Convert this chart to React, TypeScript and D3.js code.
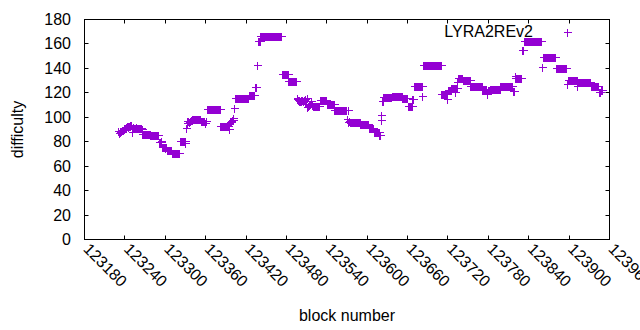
import React from "react";
import * as d3 from "d3";

// one difficulty value per block, starting at firstBlock (consecutive blocks)
const firstBlock = 123230;
const difficulty: number[] = [
  /* 123230 */ 88.9, 87.5, 88, 89, 88.5, 89.5, 90, 89.5, 90.5, 91,
  /* 123240 */ 91, 92, 91.5, 92.5, 92, 93, 92.5, 93, 93.5, 94,
  /* 123250 */ 87.8, 91, 92, 91, 91.5, 91, 91.5, 92, 91, 91.5,
  /* 123260 */ 91, 91.5, 91, 91.5, 91, 90.5, 86.5, 86.5, 86.5, 86.5,
  /* 123270 */ 86.5, 86.5, 86.5, 86.5, 86.5, 86.5, 86.5, 86.5, 85.5, 85.5,
  /* 123280 */ 85.5, 85.5, 85.5, 85.5, 85.5, 85.5, 85.5, 85.5, 85.5, 85.5,
  /* 123290 */ 79.6, 80, 80, 80.5, 80, 76, 75.5, 75.5, 75.5, 75.5,
  /* 123300 */ 75, 75.5, 73.5, 73.5, 73.5, 73.5, 73.5, 73.5, 73, 73.5,
  /* 123310 */ 71, 71, 71, 71, 71, 71, 71, 71, 71, 71,
  /* 123320 */ 71, 71, 81, 81, 81, 80.5, 81, 80.5, 81, 80.5,
  /* 123330 */ 79, 91.4, 95, 96.8, 96.8, 96.5, 96.8, 97, 97.5, 98,
  /* 123340 */ 98.7, 98.5, 98.7, 98.7, 98.5, 98.7, 98.7, 98.5, 98.7, 98.7,
  /* 123350 */ 98.7, 98.7, 98.7, 96.8, 96.8, 96.8, 96.8, 96.8, 96.8, 95.7,
  /* 123360 */ 96.8, 97, 107, 107, 107, 107, 107, 107, 107, 107,
  /* 123370 */ 107, 107, 107, 107, 107, 107, 107, 107, 107, 107,
  /* 123380 */ 107, 107, 92.7, 92.7, 92.7, 92.7, 92.7, 92.7, 92.7, 92.7,
  /* 123390 */ 92.7, 92.7, 92.7, 92.7, 90.6, 95, 96, 96.5, 97, 97.5,
  /* 123400 */ 98, 99.3, 107.7, 116, 116, 116, 116, 116, 116, 116,
  /* 123410 */ 116, 116, 116, 116, 116, 116, 116, 116, 116, 116,
  /* 123420 */ 116, 116, 116, 116, 118.4, 118.4, 118.4, 118.4, 118.4, 118.4,
  /* 123430 */ 118.4, 118.4, 118.4, 124.9, 124.9, 124.9, 143, 143, 162.8, 162.8,
  /* 123440 */ 162.8, 166.7, 166.7, 166.7, 166.7, 166.7, 166.7, 166.7, 166.7, 166.7,
  /* 123450 */ 166.7, 166.7, 166.7, 166.7, 166.7, 166.7, 166.7, 166.7, 166.7, 166.7,
  /* 123460 */ 166.7, 166.7, 166.7, 166.7, 166.7, 166.7, 166.7, 166.7, 166.7, 166.7,
  /* 123470 */ 166.7, 166.7, 166.7, 135.7, 135.7, 135.7, 135.7, 135.7, 135.7, 135.7,
  /* 123480 */ 135.7, 135.7, 135.7, 129.5, 129.5, 129.5, 129.5, 129.5, 129.5, 129.5,
  /* 123490 */ 129.5, 129.5, 129.5, 129.5, 129.5, 115, 116, 114.3, 113.7, 114.3,
  /* 123500 */ 113.7, 114, 113.5, 114.3, 113.7, 113.5, 114, 113.7, 115, 113.7,
  /* 123510 */ 116, 108.8, 109, 110, 110, 111, 113, 113, 110, 109.6,
  /* 123520 */ 109.6, 109.6, 109.6, 109.6, 109.6, 109.6, 109.6, 109.6, 109.6, 109.6,
  /* 123530 */ 114.3, 114.3, 114.3, 114.3, 114.3, 114.3, 114.3, 114.3, 114.3, 114.3,
  /* 123540 */ 111, 111, 111, 111, 111, 111, 111, 111, 111, 111,
  /* 123550 */ 111, 106, 106, 106, 106, 106, 106, 106, 106, 106,
  /* 123560 */ 106, 106, 106, 106, 106, 106, 106, 106, 106, 106,
  /* 123570 */ 98.2, 106, 96, 97, 96, 96, 96, 96, 96, 96,
  /* 123580 */ 96, 96, 96, 96, 96, 96, 96, 96, 96, 96,
  /* 123590 */ 94.7, 94.7, 94.7, 94.7, 94.7, 94.7, 94.7, 94.7, 94.7, 94.7,
  /* 123600 */ 94.7, 94.7, 91.4, 91.4, 91.4, 91.4, 91.4, 91.4, 91.4, 91.4,
  /* 123610 */ 87.8, 87.8, 87.8, 87.8, 87.8, 87.8, 87.8, 87.8, 85.1, 85.1,
  /* 123620 */ 97.4, 102, 113.7, 113.7, 116.4, 116.4, 116.4, 116.4, 116.4, 116.4,
  /* 123630 */ 116.4, 116.4, 116.4, 116.4, 116.4, 116.4, 116.4, 117.8, 117.8, 117.8,
  /* 123640 */ 117.8, 117.8, 117.8, 117.8, 117.8, 117.8, 117.8, 117.8, 117.8, 117.8,
  /* 123650 */ 117.8, 117.8, 116, 116, 116, 116, 116, 116, 116, 116,
  /* 123660 */ 109.6, 109.6, 109.6, 109.6, 109.6, 109.6, 109.6, 115, 115, 126,
  /* 123670 */ 126, 126, 126, 126, 126, 126, 126, 126, 126, 126,
  /* 123680 */ 126, 126, 117.8, 143, 143, 143, 143, 143, 143, 143,
  /* 123690 */ 143, 143, 143, 143, 143, 143, 143, 143, 143, 143,
  /* 123700 */ 143, 143, 143, 143, 143, 143, 143, 143, 143, 143,
  /* 123710 */ 119, 119, 119, 119, 119, 119, 119, 119, 119, 115,
  /* 123720 */ 122, 122, 122, 122, 122, 124, 124, 124, 124, 124,
  /* 123730 */ 124, 120.5, 124, 124, 128.7, 132, 132, 132, 132, 132,
  /* 123740 */ 132, 132, 130.5, 130.5, 130.5, 130.5, 130.5, 130.5, 130.5, 130.5,
  /* 123750 */ 130.5, 130.5, 130.5, 126, 126, 126, 126, 126, 126, 126,
  /* 123760 */ 126, 126, 126, 126, 126, 126, 126, 126, 126, 126,
  /* 123770 */ 126, 122.5, 122.5, 122.5, 122.5, 122.5, 122.5, 122.5, 119, 122.5,
  /* 123780 */ 122.5, 122.5, 122.5, 123.3, 123.3, 123.3, 123.3, 123.3, 123.3, 123.3,
  /* 123790 */ 123.3, 123.3, 123.3, 123.3, 123.3, 123.3, 123.3, 123.3, 126, 126,
  /* 123800 */ 126, 126, 126, 126, 126, 126, 126, 126, 126, 126,
  /* 123810 */ 126, 126, 126, 126, 126, 126, 121.4, 121.4, 121.4, 133.4,
  /* 123820 */ 132.3, 132.3, 132.3, 132.3, 132.3, 132.3, 132.3, 132.3, 132.3, 132.3,
  /* 123830 */ 155, 155, 155, 162.8, 162.8, 162.8, 162.8, 162.8, 162.8, 162.8,
  /* 123840 */ 162.8, 162.8, 162.8, 162.8, 162.8, 162.8, 162.8, 162.8, 162.8, 162.8,
  /* 123850 */ 162.8, 162.8, 162.8, 162.8, 162.8, 162.8, 162.8, 162.8, 162.8, 141,
  /* 123860 */ 141, 149.7, 149.7, 149.7, 149.7, 149.7, 149.7, 149.7, 149.7, 149.7,
  /* 123870 */ 149.7, 149.7, 149.7, 149.7, 149.7, 149.7, 149.7, 149.7, 149.7, 149.7,
  /* 123880 */ 140.5, 140.5, 140.5, 140.5, 140.5, 140.5, 140.5, 140.5, 140.5, 140.5,
  /* 123890 */ 140.5, 140.5, 140.5, 140.5, 140.5, 140.5, 140.5, 127.4, 130.7, 130.7,
  /* 123900 */ 130.7, 130.7, 130.7, 130.7, 130.7, 130.7, 130.7, 130.7, 130.7, 130.7,
  /* 123910 */ 130.7, 130.7, 126, 128.5, 128.5, 128.5, 128.5, 128.5, 128.5, 128.5,
  /* 123920 */ 128.5, 128.5, 128.5, 128.5, 128.5, 128.5, 128.5, 128.5, 128.5, 128.5,
  /* 123930 */ 128.5, 128.5, 126, 126, 126, 126, 126, 126, 126, 126,
  /* 123940 */ 126, 126, 126, 126, 120.5, 120.5, 120.5, 122.5, 122.5, 122.5,
];

const xTicks: number[] = [
  123180, 123240, 123300, 123360, 123420, 123480, 123540, 123600, 123660, 123720,
  123780, 123840, 123900, 123960,
];
const yTicks: number[] = [0, 20, 40, 60, 80, 100, 120, 140, 160, 180];

const seriesName = "LYRA2REv2";
const xLabel = "block number";
const yLabel = "difficulty";

const W = 640;
const H = 330;
const L = 84.5;
const R = 609.5;
const T = 19.5;
const B = 239.5;
const COLOR = "#9400d3";
const FONT = "'Liberation Sans', Arial, sans-serif";
const FS = 16;

export default function App() {
  const x = d3.scaleLinear().domain([123180, 123960]).range([L, R]);
  const y = d3.scaleLinear().domain([0, 180]).range([B, T]);
  const plus = "M-4,0H4M0,-4V4";
  const points = difficulty.map((v, i) => ({ b: firstBlock + i, v }));

  return (
    <svg
      width={W}
      height={H}
      style={{ position: "absolute", left: 0, top: 0, background: "#fff" }}
      fontFamily={FONT}
      fontSize={FS}
    >
      <rect x={0} y={0} width={W} height={H} fill="#fff" />
      {yTicks.map((t) => {
        const yy = Math.round(y(t) - 0.5) + 0.5;
        return (
          <g key={"y" + t}>
            <line x1={L} x2={L + 4} y1={yy} y2={yy} stroke="#000" />
            <line x1={R - 4} x2={R} y1={yy} y2={yy} stroke="#000" />
            <text x={71} y={y(t) + 5.5} textAnchor="end" fill="#000">
              {t}
            </text>
          </g>
        );
      })}
      {xTicks.map((t) => {
        const xx = Math.round(x(t) - 0.5) + 0.5;
        return (
          <g key={"x" + t}>
            <line x1={xx} x2={xx} y1={B} y2={B - 4} stroke="#000" />
            <line x1={xx} x2={xx} y1={T} y2={T + 4} stroke="#000" />
            <text
              transform={`translate(${x(t) - 2},${250}) rotate(45)`}
              textAnchor="start"
              fill="#000"
            >
              {t}
            </text>
          </g>
        );
      })}
      <rect x={L} y={T} width={R - L} height={B - T} fill="none" stroke="#000" />
      <g stroke={COLOR} strokeWidth={1} fill="none" shapeRendering="crispEdges">
        {points.map((p, i) => (
          <path
            key={i}
            d={plus}
            transform={`translate(${Math.round(x(p.b)) + 0.5},${Math.round(y(p.v)) + 0.5})`}
          />
        ))}
      </g>
      <text x={533} y={37} textAnchor="end" fill="#000">
        {seriesName}
      </text>
      <path
        d={plus}
        stroke={COLOR}
        fill="none"
        shapeRendering="crispEdges"
        transform="translate(567.5,32.5)"
      />
      <text x={(L + R) / 2} y={321} textAnchor="middle" fill="#000">
        {xLabel}
      </text>
      <text
        transform={`translate(23,${(T + B) / 2}) rotate(-90)`}
        textAnchor="middle"
        fill="#000"
      >
        {yLabel}
      </text>
    </svg>
  );
}
